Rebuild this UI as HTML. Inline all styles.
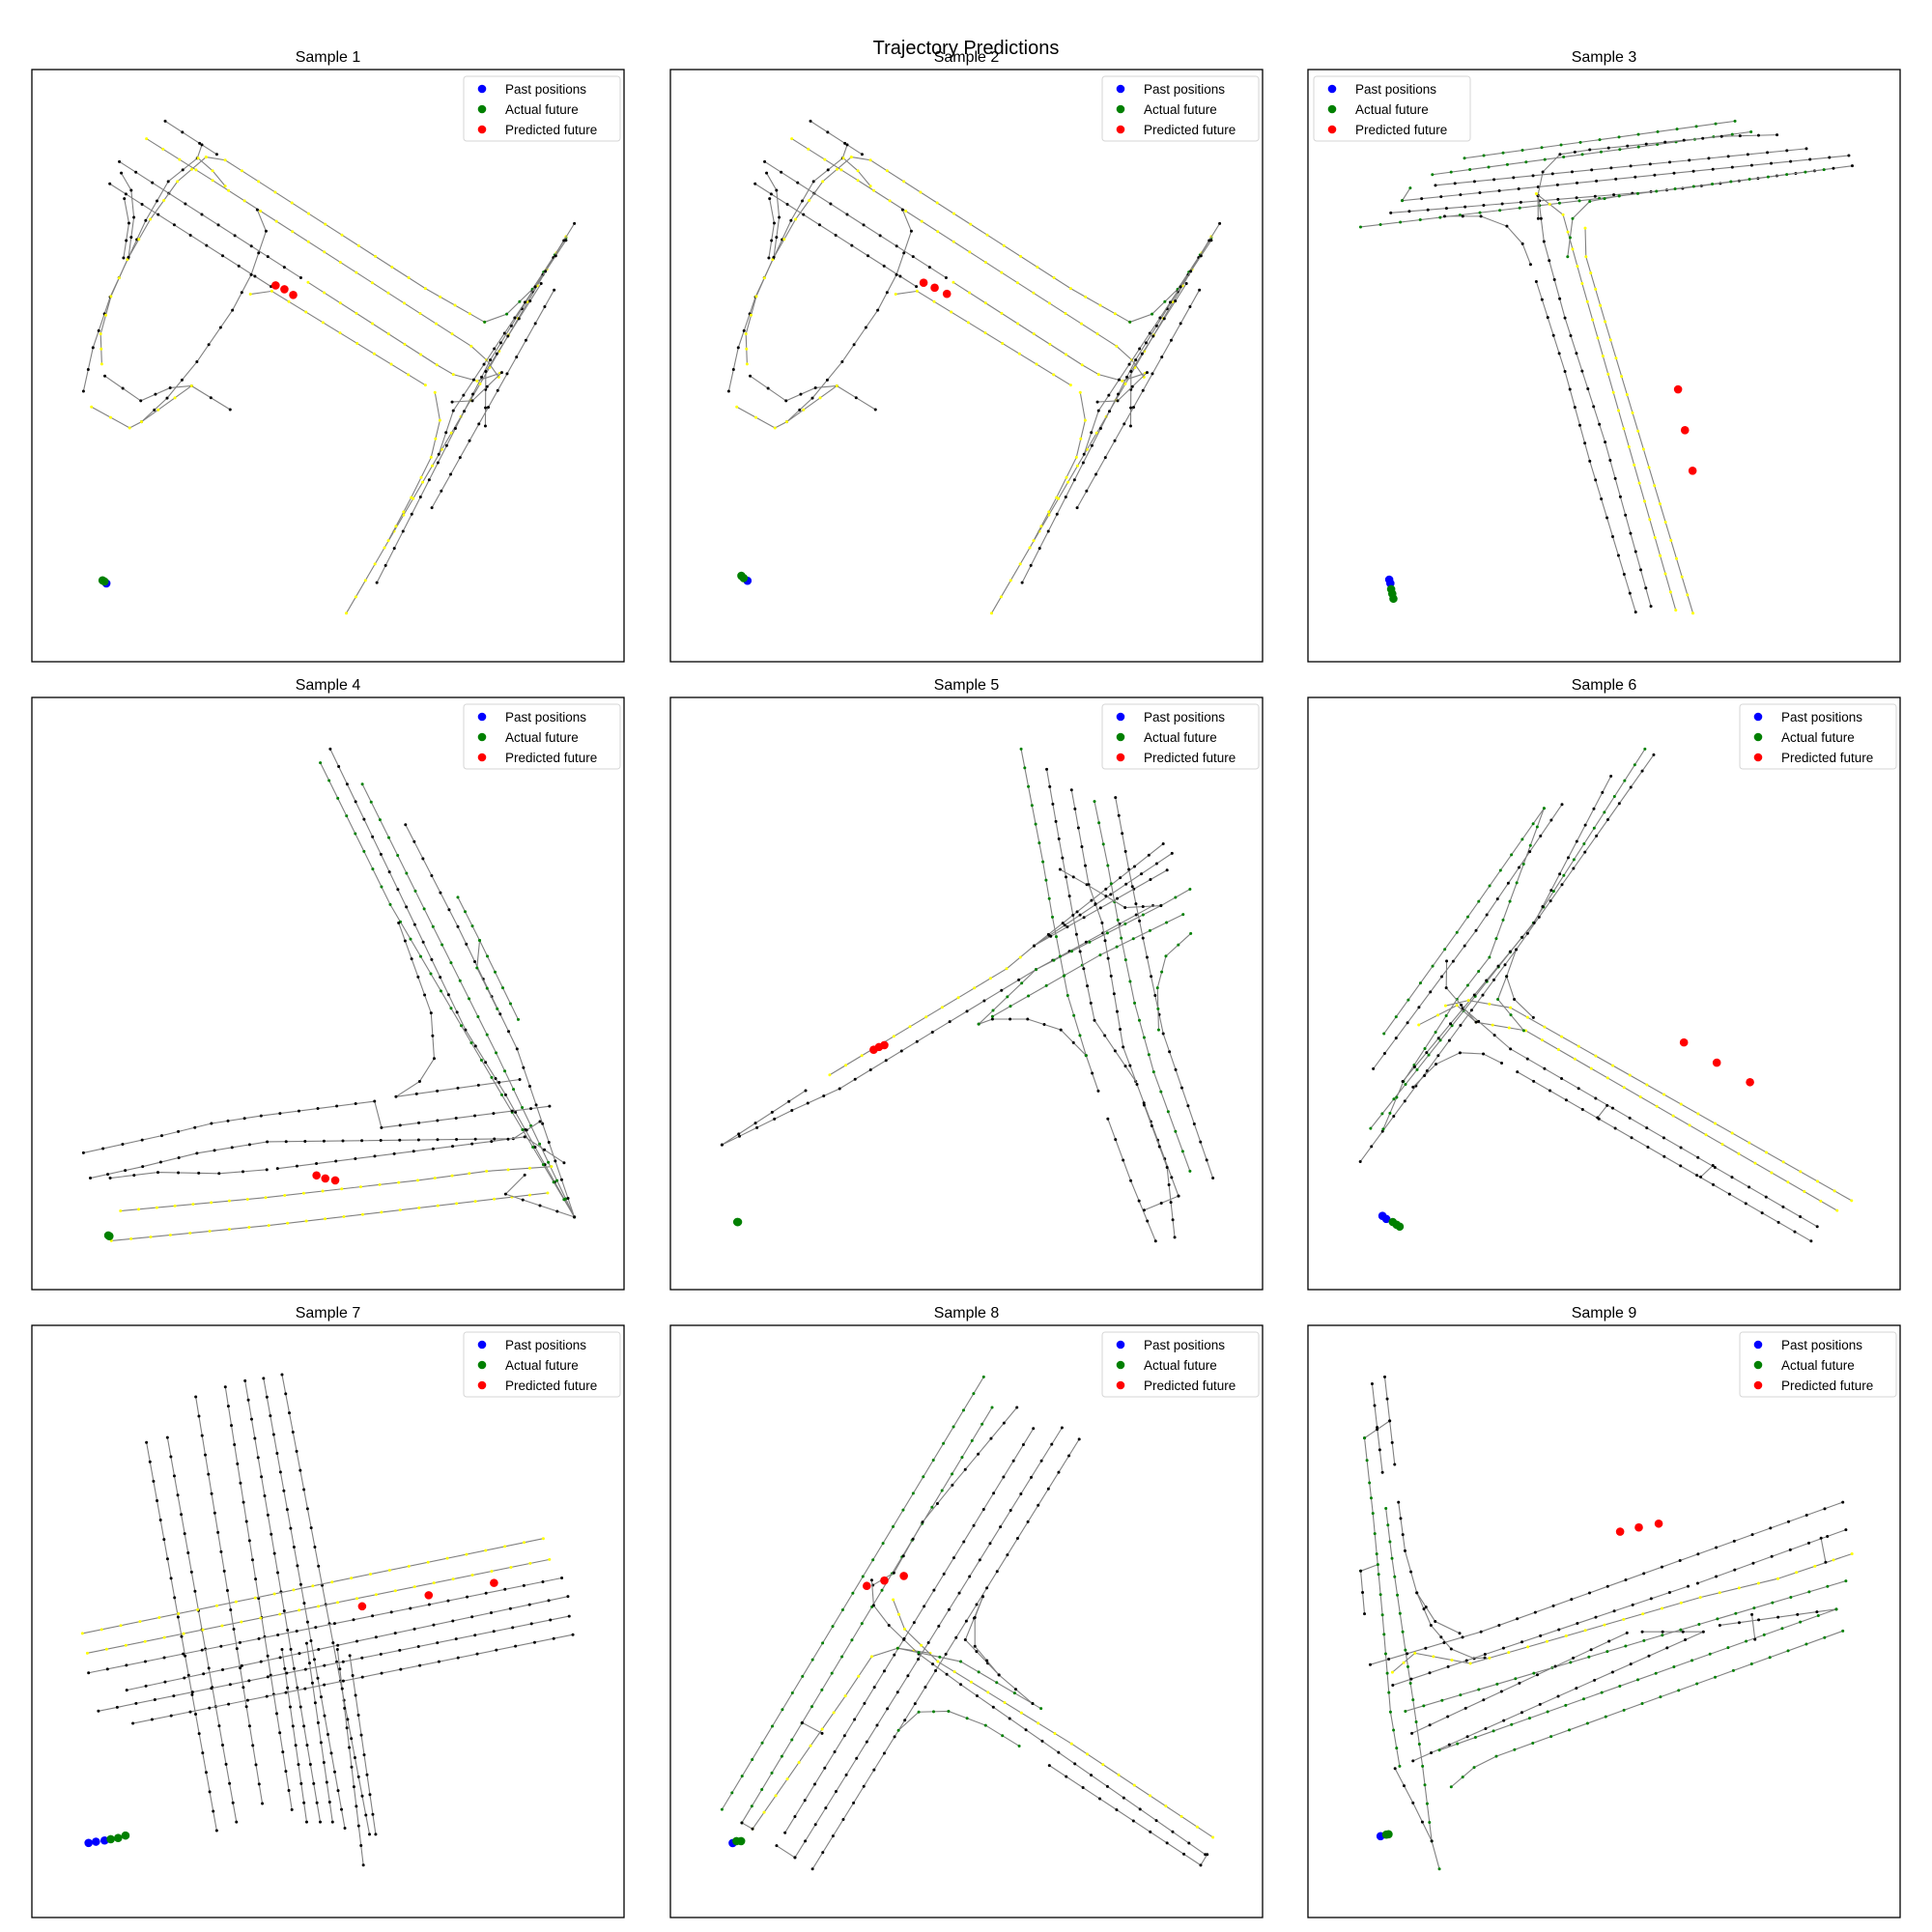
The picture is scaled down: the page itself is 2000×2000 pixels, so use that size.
<!DOCTYPE html>
<html><head><meta charset="utf-8"><style>
html,body{margin:0;padding:0;background:#fff}
svg{display:block}
text{font-family:"Liberation Sans","DejaVu Sans",sans-serif}
</style></head><body>
<svg id="fig" width="2000" height="2000" viewBox="0 0 2000 2000" xmlns="http://www.w3.org/2000/svg">
<rect width="2000" height="2000" fill="#fff"/>
<text x="1000" y="56" text-anchor="middle" font-size="20">Trajectory Predictions</text>
</svg>
<script>
// ---------- data ----------
const sampleTitles = ["Sample 1","Sample 2","Sample 3","Sample 4","Sample 5","Sample 6","Sample 7","Sample 8","Sample 9"];
const legendLabels = ["Past positions","Actual future","Predicted future"];
const legendColors = ["#0000ff","#008000","#ff0000"];

const lanes1 = [
 ["k",[[349,135],[484,222]]],
 ["y",[[456,229],[506,237],[1030,573],[1185,661]]],["g",[[1185,661],[1243,640],[1310,575],[1398,440]]],
 ["y",[[300,181],[473,290],[1100,692],[1150,724],[1190,760],[1222,805]]],
 ["k",[[229,241],[704,545]]],
 ["y",[[723,557],[1060,773],[1103,798],[1165,815],[1225,795]]],
 ["k",[[204,299],[626,568]]],["y",[[572,588],[628,580],[1030,826]]],
 ["k",[[445,197],[433,232],[357,293],[298,395],[205,595],[160,728],[135,842]]],
 ["y",[[456,229],[381,293],[310,392],[250,497],[207,594],[180,692],[183,771]]],
 ["k",[[234,271],[260,316],[267,387],[253,491]]],["k",[[242,338],[254,402],[240,493]]],
 ["y",[[435,232],[473,265],[506,305]]],
 ["k",[[590,367],[613,423],[574,537],[525,630],[432,765],[354,860],[287,922]]],
 ["k",[[191,802],[285,867],[362,833],[418,828],[519,890]]],
 ["y",[[156,883],[256,938],[287,922],[418,828]]],
 ["y",[[1398,437],[823,1423]]],["k",[[1420,403],[1200,760],[903,1343]]],["k",[[1367,577],[1047,1147]]],
 ["k",[[1398,447],[1103,893],[1065,1007]]],["k",[[1333,560],[1188,790],[1187,933]]],
 ["y",[[1055,845],[1068,918],[1045,1015],[993,1120],[933,1233]]],["k",[[1100,870],[1153,867],[1230,793]]]
];
const past1=[[195,1345]], fut1=[[185,1337],[190,1340]], pred1=[[638,565],[661,575],[684,590]];
const lanes2 = lanes1;
const past2=[[184,1338]], fut2=[[168,1325],[174,1331]], pred2=[[645,558],[674,571],[706,587]];
const lanes3 = [
 ["g",[[392,232],[1100,135]]],["g",[[308,275],[1142,163]]],["k",[[316,303],[1287,207]]],
 ["k",[[229,343],[1398,225]]],["k",[[199,375],[880,320],[963,311],[1407,252]]],
 ["g",[[120,412],[797,331],[1333,262]]],["g",[[229,343],[250,310]]],
 ["k",[[340,384],[435,384],[503,410],[544,456],[565,510]]],
 ["k",[[1210,171],[1065,175],[720,210],[642,222],[597,268],[584,330],[585,390]]],
 ["k",[[580,555],[655,790],[720,1025],[840,1420]]],
 ["k",[[585,330],[600,450],[655,650],[760,975],[880,1405]]],
 ["y",[[580,325],[650,380],[700,560],[945,1415]]],
 ["y",[[708,415],[710,490],[760,660],[990,1423]]],
 ["g",[[662,490],[675,390],[720,345],[797,331]]]
];
const past3=[[195,1335],[198,1345]], fut3=[[200,1360],[203,1372],[206,1385]], pred3=[[951,837],[969,944],[989,1050]];
const lanes4 = [
 ["k",[[781,135],[1135,870],[1240,1040],[1420,1360]]],
 ["g",[[755,171],[938,542],[1230,1040],[1420,1360]]],
 ["g",[[865,227],[1050,600],[1215,930],[1420,1360]]],
 ["k",[[978,333],[1115,600],[1270,920],[1420,1360]]],
 ["g",[[1115,523],[1172,636],[1273,843]]],["g",[[1172,636],[1165,708],[1218,815]]],
 ["k",[[960,590],[1045,826],[1053,945],[1015,1005],[953,1045],[1277,1000]]],
 ["k",[[135,1192],[340,1147],[470,1115],[600,1095],[897,1057],[915,1126],[1355,1070]]],
 ["k",[[153,1258],[290,1228],[432,1193],[616,1163],[1260,1155],[1330,1110]]],
 ["k",[[205,1258],[330,1243],[490,1246],[615,1236]]],
 ["k",[[643,1233],[1203,1162],[1290,1150],[1393,1218]]],
 ["y",[[232,1344],[612,1309],[1010,1264],[1190,1240],[1360,1228]]],
 ["y",[[208,1422],[620,1382],[1210,1313],[1350,1297]]],
 ["k",[[1420,1360],[1240,1300],[1290,1250]]]
];
const past4=[], fut4=[[200,1408],[203,1410]], pred4=[[745,1251],[768,1259],[794,1264]];
const lanes5 = [
 ["k",[[135,1171],[354,1029]]],
 ["k",[[135,1171],[318,1081],[443,1024],[686,876],[957,712],[1263,545]]],
 ["y",[[417,988],[585,887],[880,710],[952,650]]],
 ["k",[[952,650],[1290,383]]],["k",[[952,650],[1313,408]]],["k",[[952,650],[1300,452]]],
 ["k",[[807,855],[843,842],[935,842],[1022,870],[1088,937],[1120,1030]]],
 ["g",[[807,855],[957,712],[1284,545],[1360,502]]],["g",[[843,835],[1125,674],[1342,568]]],
 ["g",[[918,135],[975,430],[1000,575],[1040,780],[1088,937]]],
 ["k",[[985,188],[1017,370],[1063,620],[1110,845],[1218,1005]]],
 ["k",[[1050,242],[1095,490],[1130,590],[1185,915],[1330,1305]]],
 ["g",[[1110,272],[1145,440],[1180,630],[1215,800],[1265,980],[1360,1240]]],
 ["k",[[1165,262],[1200,450],[1237,630],[1290,880],[1420,1258]]],
 ["k",[[1145,1103],[1205,1265],[1270,1423]]],["k",[[1240,1067],[1300,1230],[1320,1413]]],
 ["k",[[1240,1342],[1330,1305]]],["g",[[1362,618],[1297,677],[1275,760],[1278,870]]],
 ["k",[[1020,450],[1090,490],[1190,550],[1284,545]]]
];
const past5=[], fut5=[[175,1373],[177,1373]], pred5=[[532,922],[546,915],[560,910]];
const lanes6 = [
 ["k",[[137,1215],[545,660],[905,150]]],["g",[[164,1128],[590,590],[882,135]]],
 ["g",[[197,1130],[250,1005],[390,790],[475,680],[618,290]]],
 ["k",[[171,972],[440,610],[665,280]]],["g",[[199,880],[390,615],[618,290]]],
 ["k",[[248,1005],[592,590],[793,206]]],["k",[[275,1020],[335,960],[398,930],[459,933],[507,957]]],
 ["y",[[360,807],[420,793],[530,812],[1423,1317]]],
 ["y",[[290,857],[390,806],[440,850],[570,872],[1385,1343]]],
 ["k",[[405,812],[530,920],[1333,1385]]],["k",[[548,980],[1317,1423]]],
 ["k",[[758,1100],[783,1068]]],["k",[[1028,1255],[1060,1225]]],
 ["k",[[363,690],[362,760],[440,850]]],["g",[[520,730],[497,790],[565,872]]],
 ["k",[[545,660],[520,730],[540,790],[590,838]]]
];
const past6=[[195,1357],[205,1365]], fut6=[[222,1373],[232,1380],[240,1385]], pred6=[[984,903],[1070,956],[1157,1007]];
const lanes7 = [
 ["k",[[93,95],[150,410]]],["k",[[110,91],[166,403]]],["k",[[133,58],[187,388]]],["k",[[157,50],[211,393]]],["k",[[173,45],[234,403]]],["k",[[188,43],[254,408]]],["k",[[203,40],[274,413]]],
 ["k",[[203,263],[223,403]]],["k",[[223,258],[244,403]]],["k",[[248,263],[269,438]]],["k",[[258,268],[279,413]]],
 ["y",[[41,250],[415,173]]],["y",[[45,266],[420,190]]],["k",[[46,282],[430,205]]],["k",[[77,296],[435,220]]],["k",[[54,313],[436,236]]],["k",[[82,323],[439,251]]]
];
const past7=[[46,420],[52,419],[59,418]], fut7=[[64,417],[70,416],[76,414]], pred7=[[268,228],[322,219],[375,209]];
const lanes8 = [
 ["g",[[135,1267],[820,135]]],["g",[[187,1302],[842,215]]],["k",[[300,1328],[950,270]]],
 ["k",[[326,1393],[1025,268]]],["k",[[372,1423],[1070,298]]],["k",[[278,1362],[326,1393]]],
 ["y",[[215,1318],[458,970],[527,867],[595,845],[680,858]]],["k",[[187,1302],[215,1318]]],
 ["k",[[907,215],[738,418],[660,515],[585,648],[530,680]]],
 ["k",[[527,667],[532,733],[572,785],[650,860],[760,940],[1400,1385]]],
 ["y",[[583,718],[613,795],[700,880],[1050,1095],[1420,1340]]],
 ["g",[[595,845],[760,880],[948,990],[970,1003]]],
 ["k",[[818,710],[772,823],[860,915],[948,990]]],["k",[[818,710],[797,765],[797,840],[860,915]]],
 ["g",[[597,1060],[650,1012],[728,1010],[825,1047],[913,1101]]],
 ["k",[[992,1152],[1388,1413],[1405,1385]]],["k",[[345,1040],[397,1068]]]
];
const past8=[[163,1355]], fut8=[[173,1350],[185,1350]], pred8=[[514,682],[560,668],[611,656]];
const lanes9 = [
 ["k",[[168,153],[181,267],[195,385]]],["k",[[201,135],[214,250],[227,364]]],["k",[[148,295],[214,250]]],
 ["g",[[148,295],[161,412],[170,492],[195,758],[216,1012],[240,1154]]],
 ["g",[[138,643],[183,626]]],["k",[[138,643],[148,755]]],
 ["g",[[204,479],[220,610],[255,850],[275,980],[300,1154],[324,1350],[344,1423]]],
 ["k",[[237,463],[254,590],[285,700],[333,775],[397,806]]],
 ["k",[[285,700],[322,785],[375,847],[435,872],[463,870]]],
 ["k",[[163,888],[453,802],[1400,463]]],
 ["y",[[221,908],[280,858],[425,885],[1027,712],[1230,663],[1424,598]]],
 ["k",[[222,942],[995,683]]],["k",[[1020,675],[1408,535]]],
 ["g",[[255,1010],[1408,669]]],["k",[[272,1068],[835,805]]],
 ["k",[[875,802],[1035,802],[275,1140]]],["k",[[1078,785],[1383,743]]],
 ["g",[[344,1112],[1383,743]]],["g",[[375,1208],[435,1157],[493,1128],[1400,800]]],
 ["k",[[228,1160],[275,1250],[324,1350]]],["k",[[1343,557],[1355,620]]],["k",[[1162,757],[1170,822]]]
];
const past9=[[190,1337]], fut9=[[205,1333],[211,1332]], pred9=[[817,540],[866,529],[918,519]];

const allLanes=[lanes1,lanes2,lanes3,lanes4,lanes5,lanes6,lanes7,lanes8,lanes9];
const allPast=[past1,past2,past3,past4,past5,past6,past7,past8,past9];
const allFut=[fut1,fut2,fut3,fut4,fut5,fut6,fut7,fut8,fut9];
const allPred=[pred1,pred2,pred3,pred4,pred5,pred6,pred7,pred8,pred9];

// ---------- layout ----------
const frameX=[33,694,1354], frameY=[72,722,1372], FS=613;
const dataOrigin=[[33,72],[701,72],[1361,72],[33,722],[694,722],[1354,722],[33,1372],[694,1372],[1354,1372]];
const unitScale=[0.3955,0.3955,0.3955,0.3955,0.3955,0.3955,1.2757,0.3955,0.3955];

const NS="http://www.w3.org/2000/svg";
const fig=document.getElementById('fig');
function mk(tag,attrs,parent){const e=document.createElementNS(NS,tag);for(const k in attrs)e.setAttribute(k,attrs[k]);parent.appendChild(e);return e;}
const dotCol={k:"#000",y:"#ffff00",g:"#008000"};
for(let i=0;i<9;i++){
  const fx=frameX[i%3], fy=frameY[Math.floor(i/3)];
  const [ox,oy]=dataOrigin[i], us=unitScale[i];
  const sx=x=>ox+x*us, sy=y=>oy+y*us;
  const g=mk('g',{},fig);
  
  
  const t=mk('text',{x:fx+FS/2,y:fy-8,'text-anchor':'middle','font-size':16},g);
  t.textContent=sampleTitles[i];
  
  
  const lg=mk('g',{},g);
  
  
  allLanes[i].forEach(l=>{
    const pts=l[1];
    const pl=mk('polyline',{points:pts.map(p=>sx(p[0])+','+sy(p[1])).join(' '),fill:'none',stroke:'#808080','stroke-width':1.1},lg);
    
    
    for(let s=0;s<pts.length-1;s++){
      const x0=sx(pts[s][0]),y0=sy(pts[s][1]),x1=sx(pts[s+1][0]),y1=sy(pts[s+1][1]);
      const d=Math.hypot(x1-x0,y1-y0),k=Math.max(1,Math.round(d/20));
      for(let j=0;j<=k;j++){
        if(s>0&&j===0)continue;
        const dt=mk('circle',{cx:x0+(x1-x0)*j/k,cy:y0+(y1-y0)*j/k,r:1.5,fill:dotCol[l[0]]},lg);
        
        
      }
    }
  });
  [[allPast[i],"#0000ff",'past-position'],[allFut[i],"#008000",'actual-future-point'],[allPred[i],"#ff0000",'predicted-future-point']].forEach(([arr,col,name])=>{
    arr.forEach(p=>{
      const c=mk('circle',{cx:sx(p[0]),cy:sy(p[1]),r:4.3,fill:col},g);
      
      
    });
  });
  const fr=mk('rect',{x:fx,y:fy,width:FS,height:FS,fill:'none',stroke:'#000','stroke-width':1.3},g);
  
  
  const lx=(i===2)?fx+6:fx+FS-166, ly=fy+7;
  const leg=mk('g',{},g);
  
  
  mk('rect',{x:lx,y:ly,width:162,height:67,rx:3,fill:'#fff','fill-opacity':0.8,stroke:'#d6d6d6','stroke-width':1},leg);
  legendLabels.forEach((lab,j)=>{
    const yy=ly+13+j*21;
    const m=mk('circle',{cx:lx+19,cy:yy,r:4.3,fill:legendColors[j]},leg);
    
    
    const tx=mk('text',{x:lx+43,y:yy+5,'font-size':13.5},leg);
    tx.textContent=lab;
    
    
  });
}
</script>
</body></html>
